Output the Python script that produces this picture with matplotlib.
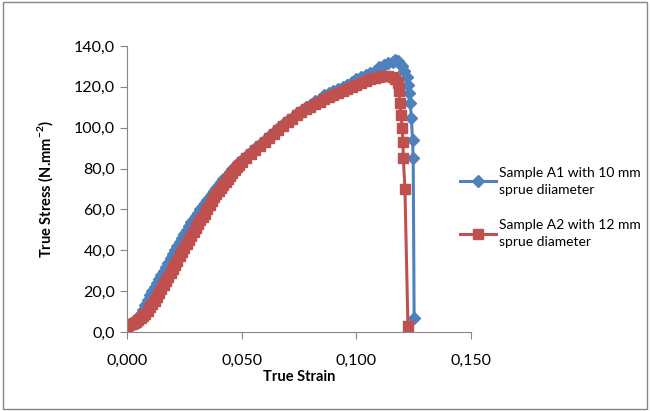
import numpy as np
import matplotlib as mpl
mpl.use('agg')
import matplotlib.pyplot as plt
from matplotlib.ticker import FuncFormatter, MultipleLocator
from matplotlib.patches import Rectangle

plt.rcParams['font.family'] = ['Lato', 'DejaVu Sans']

## sample A1, 10 mm sprue
strain_a1 = [0.000, 0.001, 0.002, 0.003, 0.004, 0.005, 0.006, 0.007, 0.008, 0.009,
             0.010, 0.011, 0.012, 0.013, 0.014, 0.015, 0.016, 0.017, 0.018, 0.019,
             0.020, 0.021, 0.022, 0.023, 0.024, 0.025, 0.026, 0.027, 0.028, 0.029,
             0.030, 0.031, 0.032, 0.033, 0.034, 0.035, 0.036, 0.037, 0.038, 0.039,
             0.040, 0.041, 0.042, 0.043, 0.044, 0.045, 0.046, 0.047, 0.048, 0.049,
             0.050, 0.052, 0.054, 0.056, 0.058,
             0.060, 0.062, 0.064, 0.066, 0.068, 0.070, 0.072, 0.074, 0.076, 0.078,
             0.080, 0.082, 0.084, 0.086, 0.088, 0.090, 0.092, 0.094, 0.096, 0.098,
             0.100, 0.102, 0.104, 0.106, 0.108, 0.110, 0.112, 0.114, 0.116, 0.117,
             0.118, 0.119, 0.120, 0.121, 0.122, 0.1225, 0.123, 0.1235, 0.124, 0.1245,
             0.1248, 0.1252]
stress_a1 = [2, 3, 4, 5, 6, 7.5, 9, 11, 13, 15.5,
             18, 20, 22, 24, 26, 28, 30, 32, 34, 36,
             38, 40, 42, 44, 46, 48, 50, 52, 54, 55.5,
             57, 58.5, 60, 61.5, 63, 64.5, 66, 67.5, 69, 70.5,
             72, 73.5, 75, 76, 77, 78.5, 80, 81, 82, 83,
             84, 86, 88, 90, 92,
             94, 96, 98, 100, 102, 104, 105, 107, 108, 110,
             111, 113, 114, 116, 117, 118, 119, 120, 121, 122.5,
             124, 125, 126, 127, 128, 129.5, 130.5, 131.5, 132, 133,
             132.5, 131, 130, 128, 125, 121, 117, 112, 105, 94,
             85, 7]

## sample A2, 12 mm sprue
strain_a2 = [0.000, 0.001, 0.002, 0.003, 0.004, 0.005, 0.006, 0.007, 0.008, 0.009,
             0.010, 0.011, 0.012, 0.013, 0.014, 0.015, 0.016, 0.017, 0.018, 0.019,
             0.020, 0.021, 0.022, 0.023, 0.024, 0.025, 0.026, 0.027, 0.028, 0.029,
             0.030, 0.031, 0.032, 0.033, 0.034, 0.035, 0.036, 0.037, 0.038, 0.039,
             0.040, 0.041, 0.042, 0.043, 0.044, 0.045, 0.046, 0.047, 0.048, 0.049,
             0.050, 0.052, 0.054, 0.056, 0.058,
             0.060, 0.062, 0.064, 0.066, 0.068, 0.070, 0.072, 0.074, 0.076, 0.078,
             0.080, 0.082, 0.084, 0.086, 0.088, 0.090, 0.092, 0.094, 0.096, 0.098,
             0.100, 0.102, 0.104, 0.106, 0.108, 0.110, 0.112, 0.114, 0.116, 0.117,
             0.118, 0.1185, 0.119, 0.1195, 0.1200, 0.1203, 0.1205, 0.1212, 0.1225]
stress_a2 = [3, 3.5, 4, 4.5, 5, 6, 7, 8, 9, 10.5,
             12, 13.5, 15, 17, 19, 21, 23, 25, 27, 29,
             31, 33, 35, 37, 39, 41, 43, 45, 47, 49,
             51, 53, 55, 56.5, 58, 60, 62, 64, 66, 67.5,
             69, 70.5, 72, 73.5, 75, 76.5, 78, 79.5, 81, 82,
             83, 85, 87, 89, 91,
             93, 95, 97, 99, 101, 103, 104.5, 106, 107.5, 109,
             110, 111.5, 112.5, 114, 115, 116, 117, 118, 119, 120,
             121, 122, 123, 124, 124.5, 125, 125.5, 125.5, 125, 124,
             122, 118, 112, 106, 100, 93, 85, 70, 3]

label_a1 = 'Sample A1 with 10 mm\nsprue diiameter'
label_a2 = 'Sample A2 with 12 mm\nsprue diameter'

fig = plt.figure(figsize=(6.5, 4.11), dpi=100)
ax = fig.add_axes([0.1954, 0.1922, 0.5292, 0.6958])

ax.plot(strain_a1, stress_a1, color='#4F81BD', lw=2.2, marker='D', ms=6,
        label=label_a1)
ax.plot(strain_a2, stress_a2, color='#C0504D', lw=2.2, marker='s', ms=6.5,
        label=label_a2)

ax.set_xlim(0, 0.15)
ax.set_ylim(0, 140)
ax.xaxis.set_major_locator(MultipleLocator(0.05))
ax.yaxis.set_major_locator(MultipleLocator(20))
ax.xaxis.set_major_formatter(FuncFormatter(lambda v, p: f'{v:.3f}'.replace('.', ',')))
ax.yaxis.set_major_formatter(FuncFormatter(lambda v, p: f'{v:.1f}'.replace('.', ',')))

## excel-ish axes
for s in ['top', 'right']:
    ax.spines[s].set_visible(False)
for s in ['left', 'bottom']:
    ax.spines[s].set_color('#868686')
ax.tick_params(colors='#868686', labelcolor='black', labelsize=11.5, length=5,
               direction='out')
ax.tick_params(axis='x', pad=11)

ax.set_xlabel('True Strain', fontsize=10.5, fontweight='bold', labelpad=1)
ax.set_ylabel(r'True Stress (N.mm$^{\mathregular{-2}}$)', fontsize=10.5,
              fontweight='bold', labelpad=14)

leg = fig.legend(loc='upper left', bbox_to_anchor=(0.688, 0.625), frameon=False,
                 fontsize=10, handlelength=2.6, labelspacing=1.7, handletextpad=0.2)
for t in leg.get_texts():
    t.set_linespacing(1.5)

## chart area border
fig.patches.append(Rectangle((0.004, 0.004), 0.992, 0.99, transform=fig.transFigure,
                             fill=False, edgecolor='#868686', lw=1))

fig.savefig('out.png', dpi=100)
